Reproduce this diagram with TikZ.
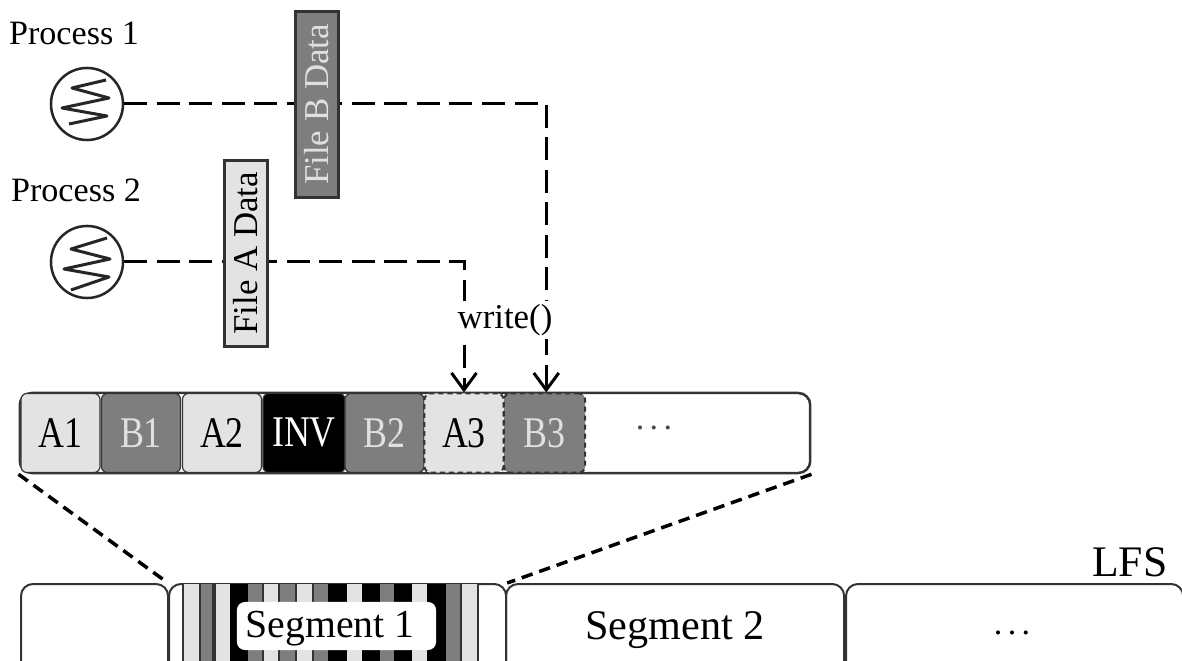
\documentclass[tikz,border=0pt]{standalone}
\usepackage{fontspec}
\setmainfont{Liberation Serif}
\usetikzlibrary{arrows.meta,backgrounds}
\definecolor{lt}{HTML}{E3E3E3}
\definecolor{dk}{HTML}{7E7E7E}
\definecolor{ln}{HTML}{333333}
\newcommand{\fs}[1]{\fontsize{#1}{#1}\selectfont}
\newcommand{\tall}[1]{\scalebox{1}[1.22]{#1}}
\newcommand{\sdots}{.\kern.16em.\kern.16em.}
\tikzset{
  x=0.01cm,y=-0.01cm,
  lbl/.style={inner sep=0pt,font=\fs{9.7}},
  cellbox/.style={draw=ln,line width=0.012cm,rounded corners=0.06cm,minimum width=0.79cm,minimum height=0.79cm,inner sep=0pt,font=\fs{10.2}},
  cella/.style={cellbox,fill=lt},
  cellb/.style={cellbox,fill=dk,text=white!88!black},
  newcell/.style={dash pattern=on 0.05cm off 0.04cm,line width=0.02cm},
  segbox/.style={draw=ln,line width=0.02cm,rounded corners=0.12cm,minimum height=0.9cm,inner sep=0pt},
  databox/.style={draw=ln,line width=0.03cm,minimum height=0.42cm,minimum width=1.86cm,inner sep=0pt,rotate=90,font=\fs{9.9}},
  proc/.style={circle,draw=black!85,line width=0.025cm,minimum size=0.72cm,inner sep=0pt},
  flow/.style={line width=0.03cm,dash pattern=on 0.23cm off 0.095cm},
  zoomline/.style={line width=0.035cm,dash pattern=on 0.115cm off 0.07cm},
  tip/.style={-{Straight Barb[length=0.17cm,width=0.25cm,line width=0.03cm]}},
  coil/.style={line width=0.03cm,black!85,line join=round}
}
\begin{document}
\begin{tikzpicture}
\useasboundingbox (0,0) rectangle (1182,661);
\clip (0,0) rectangle (1182,661);
\begin{scope}[on background layer]
\fill[white] (0,0) rectangle (1182,661);
\end{scope}

% log bar
\node[draw=ln,line width=0.025cm,rounded corners=0.12cm,minimum width=7.9cm,minimum height=0.8cm,inner sep=0pt] (bar) at (415,433) {};
\node[cella] (A1) at (60.5,433) {\tall{A1}};
\node[cellb] (B1) at (141,433) {\tall{B1}};
\node[cella] (A2) at (222,433) {\tall{A2}};
\node[cellbox,fill=black,text=white,minimum width=0.82cm] (INV) at (304,433) {\tall{INV}};
\node[cellb] (B2) at (384.5,433) {\tall{B2}};
\node[cella,newcell] (A3) at (464,433) {\tall{A3}};
\node[cellb,newcell,minimum width=0.81cm] (B3) at (544.5,433) {\tall{B3}};
\node[lbl,text=black!70] (dots1) at (654,428) {\sdots};

% segments
\node[segbox,minimum width=1.47cm,anchor=north west] (seg0) at (20,583) {};
\node[segbox,minimum width=3.37cm,anchor=north west] (seg1) at (168,583) {};
\node[segbox,minimum width=3.38cm,anchor=north west] (seg2) at (505,583) {};
\node[segbox,minimum width=3.37cm,anchor=north west] (seg3) at (845,583) {};
\foreach \a/\b/\c in {183/200/lt,200/215/dk,215/230/lt,230/248/black,248/263/dk,263/279/lt,279/296/dk,296/313/lt,313/328/dk,328/347/black,347/362/lt,362/380/black,380/394/dk,394/412/black,412/427/lt,427/446/black,446/461/dk,461/478/lt}{
  \fill[\c] (\a,584) rectangle (\b,661);
}
\foreach \a in {183,200,213,215,263,279,296,313,461,478}{
  \draw[ln,line width=0.012cm] (\a,584) -- (\a,661);
}
\node[fill=white,rounded corners=0.08cm,minimum width=1.99cm,minimum height=0.48cm,inner sep=0pt,font=\fs{11.3}] (seg1label) at (336.5,626) {\raisebox{-0.11cm}[0pt][0pt]{Segment 1}\kern0.13cm};
\node[lbl,font=\fs{12}] (seg2label) at (675,630) {Segment 2};
\node[lbl] (dots2) at (1012,633) {\sdots};
\node[lbl,font=\fs{12.4},anchor=east] (lfs) at (1168,562) {LFS};

% processes
\node[lbl] (p1label) at (74,33) {Process 1};
\node[lbl] (p2label) at (76,190) {Process 2};
\node[proc] (p1) at (87,104) {};
\node[proc] (p2) at (87,262) {};
\draw[coil] ([shift={(19,-24)}]p1.center) -- ++(-34,8) -- ++(37,10) -- ++(-47,10) -- ++(45,8) -- ++(-38,8);
\draw[coil] ([shift={(20,-24)}]p2.center) -- ++(-36,11) -- ++(39,10) -- ++(-46,10) -- ++(45,8) -- ++(-38,13);

% data boxes
\node[databox,fill=dk,text=white!88!black] (fileB) at (317,104.5) {File B Data};
\node[databox,fill=lt] (fileA) at (246,253.5) {File A Data};

% write label
\node[fill=white,inner sep=1pt,font=\fs{9.9}] (write) at (505,320) {write()};

% connectors
\begin{scope}[on background layer]
\draw[flow,tip] (p1.east) -| ([xshift=0.5]B3.north);
\draw[flow,tip] (p2.east) -| (A3.north);
\end{scope}
\draw[zoomline] (bar.south west) -- (seg1.north west);
\draw[zoomline] (bar.south east) -- (seg1.north east);
\end{tikzpicture}
\end{document}
